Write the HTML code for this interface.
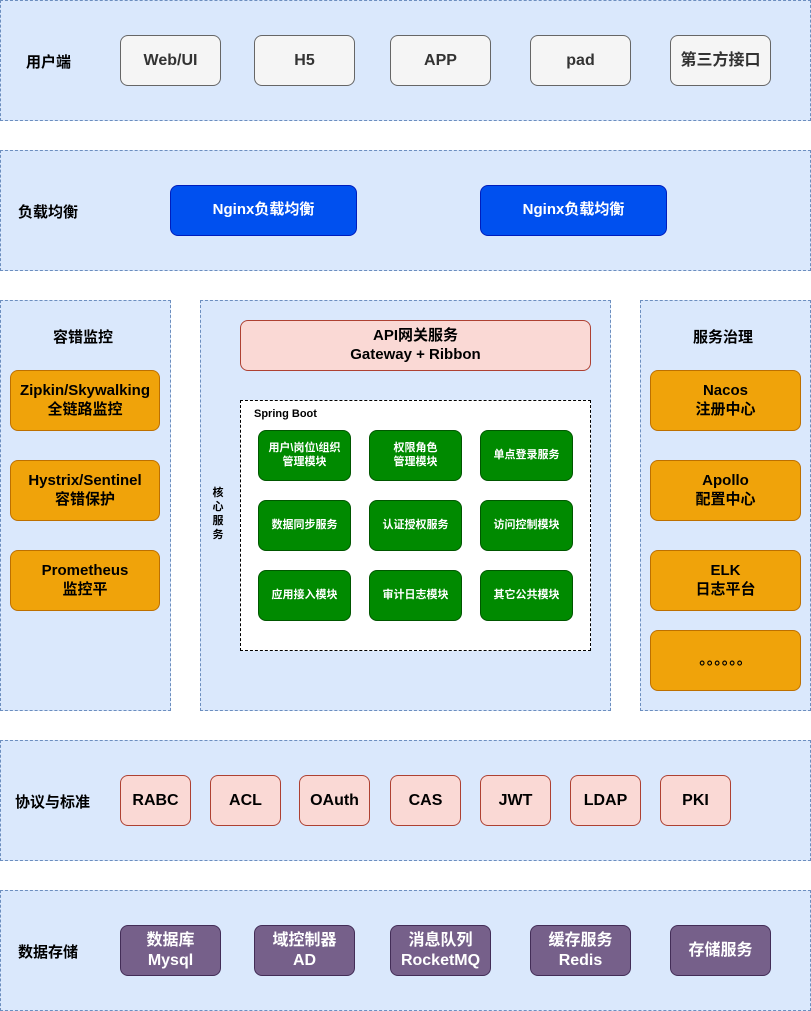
<!DOCTYPE html><html><head><meta charset="utf-8"><style>
body{margin:0;width:811px;height:1011px;background:#fff;position:relative;font-family:"Liberation Sans","Noto Sans CJK SC",sans-serif;font-weight:bold;overflow:hidden}
div{position:absolute;box-sizing:border-box}
.L{background:#dae8fc;border:1px dashed #6c8ebf}
.b{display:flex;align-items:center;justify-content:center;text-align:center;border-radius:8px;line-height:1.25}
.g{background:#f5f5f5;border:1px solid #666;color:#333;font-size:16px}
.n{background:#0050ef;border:1px solid #001dbc;color:#fff;font-size:15px}
.o{background:#f0a30a;border:1px solid #bd7000;color:#000;font-size:15px}
.r{background:#fad9d5;border:1px solid #ae4132;color:#000;font-size:16px}
.gr{background:#008a00;border:1px solid #005700;color:#fff;font-size:11px;border-radius:8px}
.p{background:#76608a;border:1px solid #432d57;color:#fff;font-size:16px}
.t{font-size:15px;color:#000}
</style></head><body>
<div class="L" style="left:0;top:0;width:811px;height:121px"></div>
<div class="t" style="left:26px;top:51px">用户端</div>
<div class="b g" style="left:120px;top:35px;width:101px;height:51px">Web/UI</div>
<div class="b g" style="left:254px;top:35px;width:101px;height:51px">H5</div>
<div class="b g" style="left:390px;top:35px;width:101px;height:51px">APP</div>
<div class="b g" style="left:530px;top:35px;width:101px;height:51px">pad</div>
<div class="b g" style="left:670px;top:35px;width:101px;height:51px">第三方接口</div>

<div class="L" style="left:0;top:150px;width:811px;height:121px"></div>
<div class="t" style="left:18px;top:201px">负载均衡</div>
<div class="b n" style="left:170px;top:185px;width:187px;height:51px">Nginx负载均衡</div>
<div class="b n" style="left:480px;top:185px;width:187px;height:51px">Nginx负载均衡</div>

<div class="L" style="left:0;top:300px;width:171px;height:411px"></div>
<div class="t" style="left:53px;top:326px">容错监控</div>
<div class="b o" style="left:10px;top:370px;width:150px;height:61px">Zipkin/Skywalking<br>全链路监控</div>
<div class="b o" style="left:10px;top:460px;width:150px;height:61px">Hystrix/Sentinel<br>容错保护</div>
<div class="b o" style="left:10px;top:550px;width:150px;height:61px">Prometheus<br>监控平</div>

<div class="L" style="left:200px;top:300px;width:411px;height:411px"></div>
<div style="left:210px;top:486px;width:16px;font-size:11px;line-height:14px;text-align:center">核<br>心<br>服<br>务</div>
<div class="b r" style="left:240px;top:320px;width:351px;height:51px;font-size:15px">API网关服务<br>Gateway + Ribbon</div>
<div style="left:240px;top:400px;width:351px;height:251px;background:#fff;border:1px dashed #000"></div>
<div style="left:254px;top:408px;font-size:11px">Spring Boot</div>
<div class="b gr" style="left:258px;top:430px;width:93px;height:51px">用户\岗位\组织<br>管理模块</div>
<div class="b gr" style="left:369px;top:430px;width:93px;height:51px">权限角色<br>管理模块</div>
<div class="b gr" style="left:480px;top:430px;width:93px;height:51px">单点登录服务</div>
<div class="b gr" style="left:258px;top:500px;width:93px;height:51px">数据同步服务</div>
<div class="b gr" style="left:369px;top:500px;width:93px;height:51px">认证授权服务</div>
<div class="b gr" style="left:480px;top:500px;width:93px;height:51px">访问控制模块</div>
<div class="b gr" style="left:258px;top:570px;width:93px;height:51px">应用接入模块</div>
<div class="b gr" style="left:369px;top:570px;width:93px;height:51px">审计日志模块</div>
<div class="b gr" style="left:480px;top:570px;width:93px;height:51px">其它公共模块</div>

<div class="L" style="left:640px;top:300px;width:171px;height:411px"></div>
<div class="t" style="left:693px;top:326px">服务治理</div>
<div class="b o" style="left:650px;top:370px;width:151px;height:61px">Nacos<br>注册中心</div>
<div class="b o" style="left:650px;top:460px;width:151px;height:61px">Apollo<br>配置中心</div>
<div class="b o" style="left:650px;top:550px;width:151px;height:61px">ELK<br>日志平台</div>
<div class="b o" style="left:650px;top:630px;width:151px;height:61px">。。。。。。</div>

<div class="L" style="left:0;top:740px;width:811px;height:121px"></div>
<div class="t" style="left:15px;top:791px">协议与标准</div>
<div class="b r" style="left:120px;top:775px;width:71px;height:51px">RABC</div>
<div class="b r" style="left:210px;top:775px;width:71px;height:51px">ACL</div>
<div class="b r" style="left:299px;top:775px;width:71px;height:51px">OAuth</div>
<div class="b r" style="left:390px;top:775px;width:71px;height:51px">CAS</div>
<div class="b r" style="left:480px;top:775px;width:71px;height:51px">JWT</div>
<div class="b r" style="left:570px;top:775px;width:71px;height:51px">LDAP</div>
<div class="b r" style="left:660px;top:775px;width:71px;height:51px">PKI</div>

<div class="L" style="left:0;top:890px;width:811px;height:121px"></div>
<div class="t" style="left:18px;top:941px">数据存储</div>
<div class="b p" style="left:120px;top:925px;width:101px;height:51px">数据库<br>Mysql</div>
<div class="b p" style="left:254px;top:925px;width:101px;height:51px">域控制器<br>AD</div>
<div class="b p" style="left:390px;top:925px;width:101px;height:51px">消息队列<br>RocketMQ</div>
<div class="b p" style="left:530px;top:925px;width:101px;height:51px">缓存服务<br>Redis</div>
<div class="b p" style="left:670px;top:925px;width:101px;height:51px">存储服务</div>
</body></html>
